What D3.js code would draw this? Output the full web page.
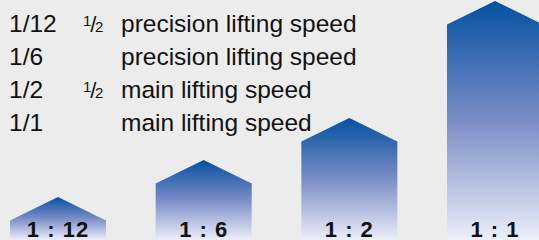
<!DOCTYPE html>
<html lang="en">
<head>
    <meta charset="UTF-8">
    <title>Lifting speed ratios</title>
    <style>
        html, body {
            margin: 0;
            padding: 0;
            background-color: #ececec;
        }
        svg {
            display: block;
            font-family: "Liberation Sans", Arial, Helvetica, sans-serif;
        }
        .legend text {
            font-size: 24.5px;
            fill: #111;
        }
        .bar-label {
            font-size: 22px;
            font-weight: bold;
            letter-spacing: 1px;
            fill: #111;
        }
    </style>
    <script src="https://d3js.org/d3.v7.min.js"></script>
</head>
<body>
    <svg id="chart" width="539" height="240"></svg>

    <script>
        // legend rows
        const ratioLabels = ["1/12", "1/6", "1/2", "1/1"];
        const halfMarks = [true, false, true, false];
        const speedNames = ["precision lifting speed", "precision lifting speed", "main lifting speed", "main lifting speed"];

        // bars (height of the tip, same units as the 240px canvas)
        const barCategories = ["1 : 12", "1 : 6", "1 : 2", "1 : 1"];
        const barHeights = [43, 80, 122, 239];

        const width = 539, height = 240;
        const barWidth = 96, roofHeight = 23.5;

        const svg = d3.select("#chart");

        const x = d3.scalePoint()
            .domain(barCategories)
            .range([58, 495]);

        const y = d3.scaleLinear()
            .domain([0, 240])
            .range([height, 0]);

        const defs = svg.append("defs");
        const grad = defs.append("linearGradient")
            .attr("id", "barGrad")
            .attr("x1", 0).attr("y1", 0)
            .attr("x2", 0).attr("y2", 1);
        grad.append("stop").attr("offset", "0%").attr("stop-color", "#0451a1");
        grad.append("stop").attr("offset", "50%").attr("stop-color", "#7b8dc7");
        grad.append("stop").attr("offset", "100%").attr("stop-color", "#eceef9");

        const bars = svg.append("g").attr("class", "bars")
            .selectAll("g")
            .data(barCategories.map((c, i) => ({ cat: c, h: barHeights[i] })))
            .enter().append("g");

        bars.append("path")
            .attr("fill", "url(#barGrad)")
            .attr("d", d => {
                const cx = x(d.cat);
                const left = cx - barWidth / 2, right = cx + barWidth / 2;
                const apex = y(d.h), shoulder = apex + roofHeight;
                return `M${left},${y(0)}L${left},${shoulder}L${cx},${apex}L${right},${shoulder}L${right},${y(0)}Z`;
            });

        bars.append("text")
            .attr("class", "bar-label")
            .attr("x", d => x(d.cat))
            .attr("y", 236.5)
            .attr("text-anchor", "middle")
            .text(d => d.cat);

        // legend
        const rowY = d3.scaleLinear().domain([0, 3]).range([32.3, 130.5]);
        const legend = svg.append("g").attr("class", "legend");
        const rows = legend.selectAll("g")
            .data(ratioLabels.map((r, i) => ({ ratio: r, half: halfMarks[i], name: speedNames[i], i })))
            .enter().append("g")
            .attr("transform", d => `translate(0,${rowY(d.i)})`);

        rows.append("text").attr("x", 9).attr("y", 0).text(d => d.ratio);
        rows.append("text").attr("x", 121).attr("y", 0).text(d => d.name);

        const half = rows.filter(d => d.half).append("text")
            .attr("x", 83).attr("y", 0);
        half.append("tspan").attr("dy", -6).style("font-size", "15px").text("1");
        half.append("tspan").attr("dy", 6).attr("dx", -1).style("font-size", "22px").text("/");
        half.append("tspan").attr("dx", -1.5).style("font-size", "15px").text("2");
    </script>
</body>
</html>
